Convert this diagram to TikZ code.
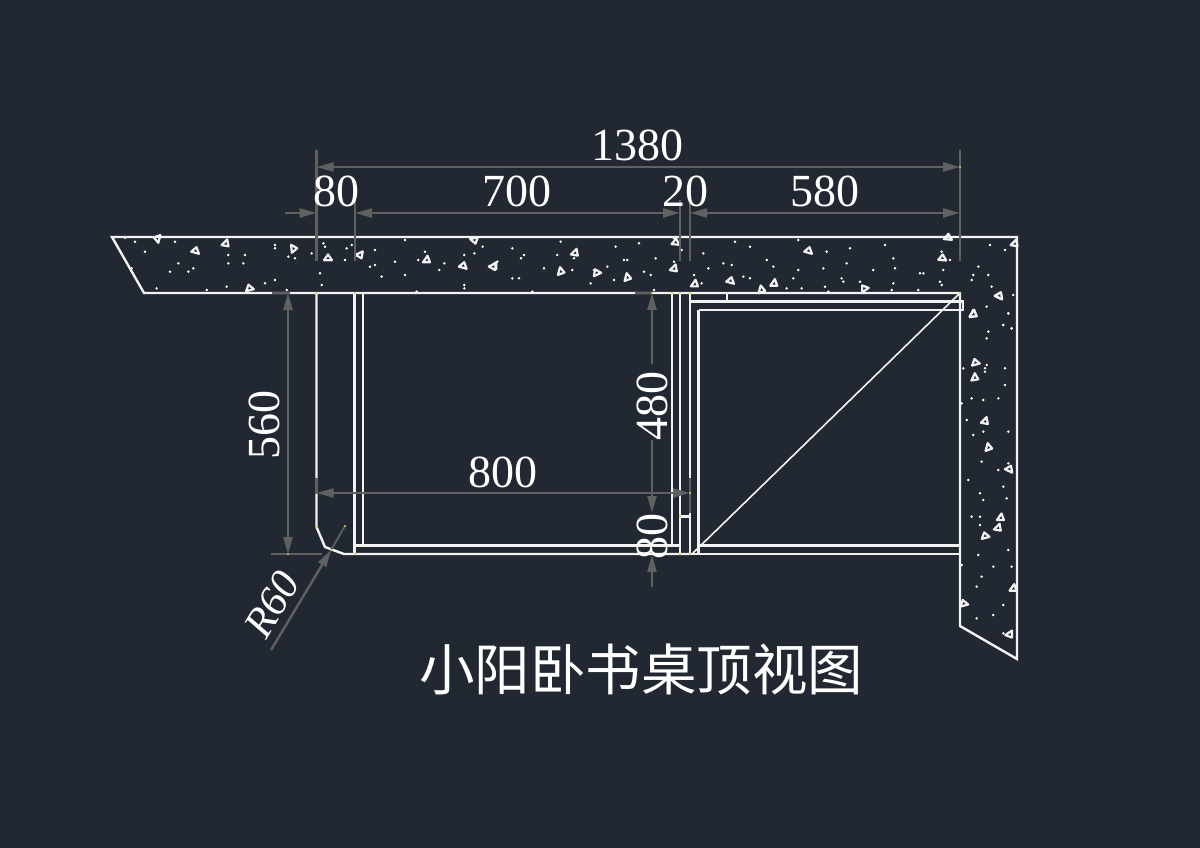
\documentclass[tikz,border=0pt]{standalone}
\usepackage{fontspec}
\setmainfont{Liberation Serif}
\newfontfamily\cjkfont{Noto Sans CJK SC}
\usetikzlibrary{arrows.meta}
\definecolor{bgc}{HTML}{212831}
\definecolor{dimc}{HTML}{5F6161}
\definecolor{wallc}{HTML}{F2F2F2}
\definecolor{snapc}{HTML}{D8D040}
\tikzset{
  wall/.style={draw=wallc,line width=2.4pt,line join=miter},
  thinw/.style={draw=wallc,line width=1.6pt},
  dimline/.style={draw=dimc,line width=2.4pt},
  dimtip/.style={dimline,-{Triangle[length=17pt,width=9pt,fill=dimc]}},
  dimtxt/.style={text=white,inner sep=0pt,font=\fontsize{46}{50}\selectfont},
  speck/.style={fill=white,draw=none},
  tri/.style={draw=wallc,line width=2.2pt,fill=bgc,line join=round},
  snap/.style={fill=snapc,draw=none}
}
\newcommand{\grit}[3]{\path[tri] ({#1},{#2}) ++(#3:4.5) -- ++(#3+140:7) -- ++(#3+250:7) -- cycle;}
\begin{document}
\begin{tikzpicture}[x=1pt,y=-1pt]
\useasboundingbox (0,0) rectangle (1200,848);
\fill[bgc] (0,0) rectangle (1200,848);
% --- specks in the concrete
\foreach \a/\b in {75/353,105/365,135/395,225/365,235/430,210/455,265/455,280/445,170/505,320/510,380/500,385/405,385/430,435/405,430/430,525/375,525/385,565/410,585/415,635/400,670/370,675/380,495/490,525/480,560/510,735/420,740/385,755/375,825/390,810/440,825/435,885/425,845/470,915/465,915/360,665/495,660/460,955/420,975/395,1033/430,1018/450,1093/405,1123/400,1148/380,1093/495,1093/505,950/515,95/445}
  \fill[speck] ({100+\a/3},{120+\b/3}) circle (1.4);
\foreach \a/\b in {97/55,242/35,407/50,477/40,582/25,605/60,132/75,123/85,232/75,282/85,432/90,442/90,527/85,52/95,582/95,192/115,277/120,382/110,342/120,492/125,512/135,97/145,117/145,332/160,402/150,642/135,157/185,522/180}
  \fill[speck] ({480+\a/3},{230+\b/3}) circle (1.4);
\foreach \a/\b in {250/400,265/445,310/430,335/435,345/365,390/380,440/420,460/440,535/360,620/395,690/385,795/375,820/415,825/445,680/430,610/445,535/450,520/475,500/505,545/505,370/470,390/475,245/490,615/500,665/475,670/485,720/485,760/450,820/490,815/510,895/510,900/460,910/460,970/450,965/395,990/420,960/485,965/495,1110/375,1155/390,1075/440,1060/465,1105/465,1055/480,1115/500,1180/525,1100/560,1165/580,1150/615,1175/625,625/515}
  \fill[speck] ({620+\a/3},{120+\b/3}) circle (1.4);
\foreach \a/\b in {205/100,190/135,215/145,145/155,140/175,70/265,140/255,135/265,135/275,195/265,195/315,95/355,130/360,175/355,65/370,80/420,130/455,100/465,205/455,125/545,205/550,175/570,85/600,190/620,120/640,130/660,200/655,95/710,120/710,120/735,205/810,115/825,160/860,215/860,65/855,125/890,110/920,190/975,160/1005,110/1015,190/1060}
  \fill[speck] ({940+\a/3},{280+\b/3}) circle (1.4);
% --- grit triangles
\foreach \a/\b/\r in {175/355/90,375/370/-60,287/395/180,578/387/-110,685/417/165,778/403/-40,450/507/150,978/420/-70,1090/440/180,1180/437/-50,1122/358/-30}
  {\grit{100+\a/3}{120+\b/3}{\r}}
\foreach \a/\b/\r in {283/68/-60,38/108/-40,240/125/-90,352/130/140,440/143/-90,588/40/170,580/115/-60,642/162/-70}
  {\grit{480+\a/3}{230+\b/3}{\r}}
\foreach \a/\b/\r in {332/485/180,460/490/-70,422/510/-90,566/395/180,735/507/130,985/355/170,968/417/170,1182/370/-60,1137/530/190,1057/583/-80}
  {\grit{620+\a/3}{120+\b/3}{\r}}
\foreach \a/\b/\r in {178/50/190,98/102/-70,108/250/150,102/293/-80,133/423/-60,143/503/-90,208/570/190,180/713/-70,172/743/-60,137/770/150,218/925/-70,73/973/150,207/1062/-50}
  {\grit{940+\a/3}{280+\b/3}{\r}}
% --- wall outline
\draw[wall] (112,237) -- (1017,237) -- (1017,659) -- (960,626) -- (960,293) -- (144,293) -- cycle;
% --- desk
\coordinate (L0) at (316.5,293);
\coordinate (L1) at (354.5,293);
\draw[wall] (L0) -- (316.5,527) -- (325,547) -- (344,554) -- (690,554);
\draw[wall] (L1) -- (354.5,554);
\draw[wall] (363,293) -- (363,545.5);
\draw[wall] (354.5,545.5) -- (680,545.5);
\draw[wall] (672,293) -- (672,545.5);
\draw[wall] (680,293) -- (680,554);
\draw[wall] (690,293) -- (690,554);
\draw[wall] (698.5,310) -- (698.5,554);
\draw[wall] (698.5,545.5) -- (960,545.5);
\draw[wall] (690,554) -- (960,554);
\draw[wall] (690,301.5) -- (963,301.5) -- (963,310) -- (698.5,310);
\draw[wall] (727,293) -- (727,301.5);
\draw[wall] (680,516.5) -- (690,516.5);
\draw[thinw] (960,293) -- (692,554);
% --- dimension anchors
\coordinate (E0top) at (316.5,150); \coordinate (E0bot) at (316.5,261);
\coordinate (E1top) at (960,150);   \coordinate (E1bot) at (960,261);
\coordinate (E2top) at (355,197);   \coordinate (E2bot) at (355,261);
\coordinate (E3top) at (680,200);   \coordinate (E3bot) at (680,261);
\coordinate (E4top) at (690,200);   \coordinate (E4bot) at (690,261);
% --- extension lines
\draw[dimline] (E0top) -- (E0bot);
\draw[dimline] (E1top) -- (E1bot);
\draw[dimline] (E2top) -- (E2bot);
\draw[dimline] (E3top) -- (E3bot);
\draw[dimline] (E4top) -- (E4bot);
\draw[dimline] (272,293) -- (290,293);
\draw[dimline] (271,554) -- (322,554);
\draw[dimline] (635,293) -- (652,293);
\draw[dimline] (316.5,478) -- (316.5,494);
\draw[dimline] (690,478) -- (690,513);
% --- horizontal dimensions
\draw[dimtip] (640,167) -- (316.5,167);
\draw[dimtip] (640,167) -- (960,167);
\draw[dimtip] (285,213) -- (316.5,213);
\draw[dimtip] (500,213) -- (355,213);
\draw[dimtip] (500,213) -- (680,213);
\draw[dimtip] (850,213) -- (690,213);
\draw[dimtip] (850,213) -- (960,213);
\draw[dimtip] (500,493) -- (316.5,493);
\draw[dimtip] (500,493) -- (690,493);
% --- vertical dimensions
\draw[dimtip] (288,424) -- (288,293);
\draw[dimtip] (288,424) -- (288,554);
\draw[dimtip] (652,364) -- (652,293);
\draw[dimtip] (652,440) -- (652,513);
\draw[dimtip] (652,587) -- (652,555);
% --- R60 leader
\coordinate (Rfar) at (271,650);
\coordinate (Rtip) at (331,550);
\coordinate (Rend) at (345,526);
\draw[dimtip] (Rfar) -- (Rtip);
\draw[dimline,line width=1.8pt] (Rtip) -- (Rend);
% --- snap marks
\foreach \a/\b in {316.5/293,355/293,672/293,680/293,690/293,652/293,960/293,960/167,288/554,345/526,331/550,317/527,355/554,690/493,680/516,680/554,690/554}
  \fill[snap] (\a,\b) circle (1.2);
% --- labels
\node[dimtxt] (t1380) at (637,145) {1380};
\node[dimtxt] (t80a) at (336,191) {80};
\node[dimtxt] (t700) at (517,191) {700};
\node[dimtxt] (t20) at (685,191) {20};
\node[dimtxt] (t580) at (825,191) {580};
\node[dimtxt] (t800) at (503,472) {800};
\node[dimtxt,rotate=90] (t560) at (264,425) {560};
\node[dimtxt,rotate=90] (t480) at (652,406) {480};
\node[dimtxt,rotate=90] (t80b) at (652,536) {80};
\node[dimtxt,rotate=59,font=\fontsize{42}{46}\selectfont\itshape] (tR) at (272,604) {R60};
\node[text=white,inner sep=0pt,font=\cjkfont\fontsize{55.5}{60}\selectfont] (title) at (641,669) {小阳卧书桌顶视图};
\end{tikzpicture}
\end{document}
